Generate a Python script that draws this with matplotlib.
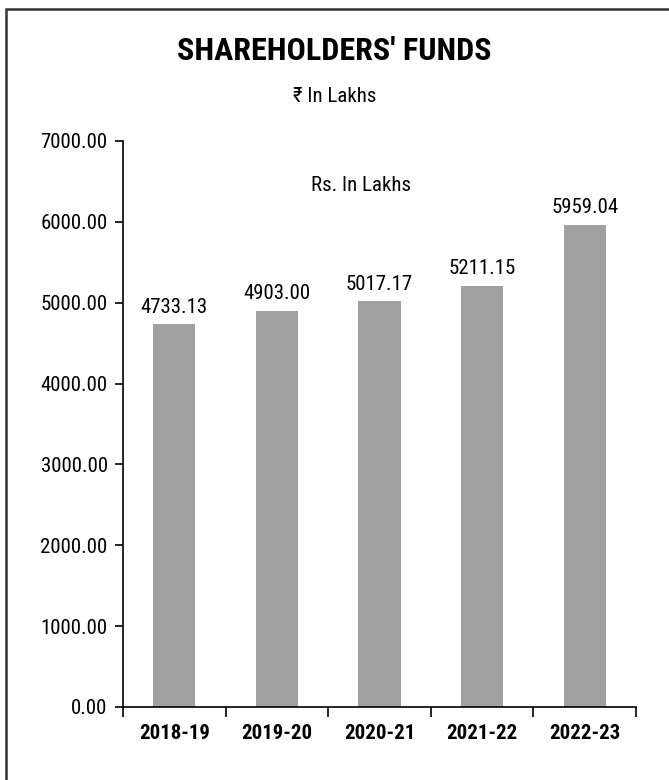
import matplotlib
matplotlib.use("Agg")
import matplotlib.pyplot as plt
from matplotlib import font_manager
from matplotlib.patches import Rectangle

years = ["2018-19", "2019-20", "2020-21", "2021-22", "2022-23"]
funds = [4733.13, 4903.00, 5017.17, 5211.15, 5959.04]
y_ticks = [0, 1000, 2000, 3000, 4000, 5000, 6000, 7000]

# pick a narrow face if one is installed
installed = {f.name for f in font_manager.fontManager.ttflist}
narrow = None
for name in ['Liberation Sans Narrow', 'Roboto Condensed', 'DejaVu Sans Condensed',
             'Open Sans Condensed', 'Noto Sans Condensed', 'Arial Narrow']:
    if name in installed:
        narrow = name
        break
if narrow is None:
    narrow = 'Liberation Sans'
    scale = 0.82
else:
    scale = 1.0

plt.rcParams['font.family'] = [narrow, 'DejaVu Sans']

fig = plt.figure(figsize=(6.69, 7.8), dpi=100)
ax = fig.add_axes([123 / 669, 1 - 707 / 780, 513 / 669, 566 / 780])

x = list(range(len(years)))
ax.bar(x, funds, width=0.41, color='#a0a0a0')
for xi, v in zip(x, funds):
    ax.text(xi, v + 95, f"{v:.2f}", ha='center', va='bottom', fontsize=15 * scale)

ax.set_xlim(-0.5, len(years) - 0.5)
ax.set_ylim(0, 7000)
ax.set_yticks(y_ticks)
ax.set_yticklabels([f"{t:.2f}" for t in y_ticks], fontsize=15 * scale)
ax.set_xticks(x)
ax.set_xticklabels(years, fontsize=15 * scale, fontweight='bold')
ax.tick_params(axis='x', length=0, pad=12)
ax.set_xticks([i - 0.5 for i in range(len(years) + 1)], minor=True)
ax.tick_params(axis='x', which='minor', length=7, width=1.2, direction='out')
ax.tick_params(axis='y', length=6, width=1.2, direction='out', pad=5)
for s in ['top', 'right']:
    ax.spines[s].set_visible(False)
for s in ['left', 'bottom']:
    ax.spines[s].set_linewidth(1.2)

ax.text(1.82, 6455, "Rs. In Lakhs", ha='center', va='center', fontsize=15 * scale)

fig.text(0.5, 1 - 51 / 780, "SHAREHOLDERS' FUNDS", ha='center', va='center',
         fontsize=23 * scale, fontweight='bold')
fig.text(0.5, 1 - 97 / 780, "₹ In Lakhs", ha='center', va='center', fontsize=15 * scale)

# page frame (only left and top edges visible in the crop)
fig.patches.append(Rectangle((6 / 669, -0.1), 1.2, 1 - 9 / 780 + 0.1,
                             transform=fig.transFigure, fill=False,
                             edgecolor='#333333', linewidth=1.8))

fig.savefig("out.png", dpi=100)
